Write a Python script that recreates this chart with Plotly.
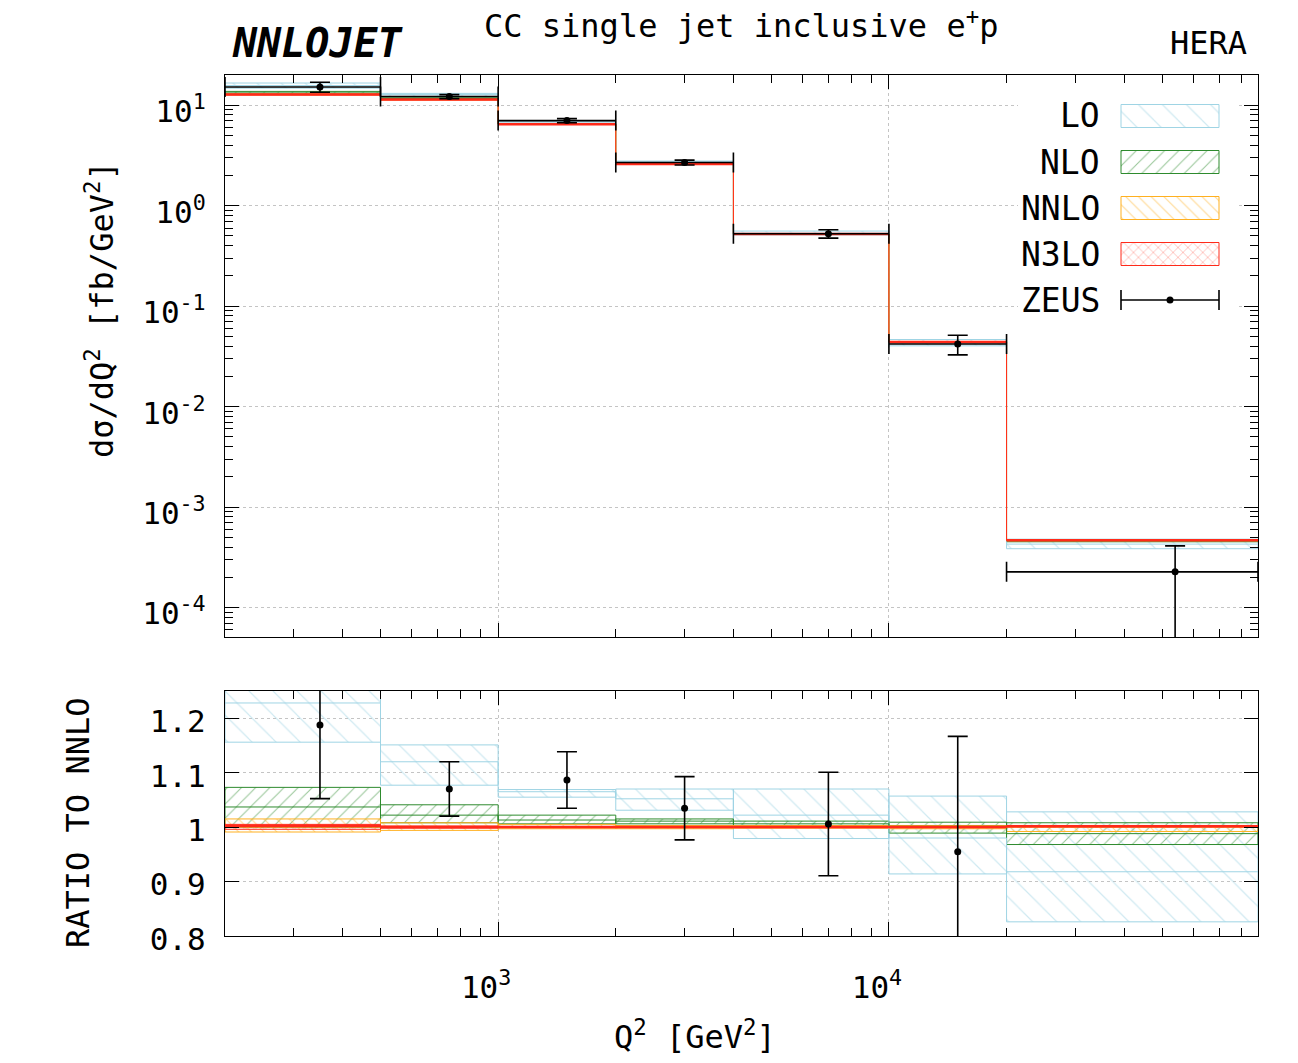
import math
import plotly.graph_objects as go

# ---------------- data ----------------
q2_edges = [200, 500, 1000, 2000, 4000, 10000, 20000, 88000]
nnlo_xsec = [12.8, 11.4, 6.47, 2.60, 0.523, 0.0441, 4.67e-4]   # fb/GeV^2

# ratios to NNLO central (lower, central, upper)
lo_lo = [1.156, 1.077, 1.055, 1.031, 0.979, 0.914, 0.826]
lo_c = [1.228, 1.120, 1.065, 1.052, 1.022, 0.980, 0.918]
lo_hi = [1.300, 1.151, 1.069, 1.070, 1.070, 1.057, 1.028]

nlo_lo = [1.000, 1.008, 1.006, 1.006, 1.0015, 0.989, 0.968]
nlo_c = [1.037, 1.022, 1.013, 1.011, 1.006, 1.0015, 0.988]
nlo_hi = [1.073, 1.041, 1.022, 1.015, 1.011, 1.009, 1.008]

nnlo_lo = [0.991, 0.994, 0.997, 0.997, 0.998, 0.997, 0.992]
nnlo_c = [1.0, 1.0, 1.0, 1.0, 1.0, 1.0, 1.0]
nnlo_hi = [1.015, 1.008, 1.005, 1.003, 1.003, 1.003, 1.003]

n3lo_lo = [0.996, 0.998, 0.999, 0.999, 0.999, 0.999, 1.000]
n3lo_c = [1.002, 1.000, 1.000, 1.000, 1.000, 1.000, 1.0015]
n3lo_hi = [1.005, 1.002, 1.001, 1.001, 1.001, 1.001, 1.003]

zeus_q2 = [350, 750, 1500, 3000, 7000, 15000, 54000]
zeus_xsec = [15.2, 12.2, 7.03, 2.69, 0.526, 0.0421, 2.27e-4]
zeus_err = [1.73, 0.57, 0.336, 0.151, 0.0497, 0.00935, 1.85e-4]

order_names = ["LO", "NLO", "NNLO", "N3LO"]
y_tick_vals = [1e-4, 1e-3, 1e-2, 1e-1, 1, 10]
y_tick_text = ["10<sup>-4</sup>", "10<sup>-3</sup>", "10<sup>-2</sup>",
               "10<sup>-1</sup>", "10<sup>0</sup>", "10<sup>1</sup>"]
x_tick_vals = [1000, 10000]
x_tick_text = ["10<sup>3</sup>", "10<sup>4</sup>"]
r_tick_vals = [0.8, 0.9, 1.0, 1.1, 1.2]
r_tick_text = ["0.8", "0.9", "1", "1.1", "1.2"]

# ---------------- style ----------------
W, H = 1298, 1063
FONT = "DejaVu Sans Mono"
def px(x): return x / W
def py(y): return 1 - y / H

styles = {
    "LO":   dict(color="#9fd4e4", shape="\\", size=17, solidity=0.07, cw=1),
    "NLO":  dict(color="#2e8b2e", shape="/", size=10, solidity=0.1, cw=1),
    "NNLO": dict(color="#ffb020", shape="\\", size=9, solidity=0.12, cw=1),
    "N3LO": dict(color="#ff2a1a", shape="x", size=7, solidity=0.15, cw=2.5),
}
bands = {
    "LO": (lo_lo, lo_c, lo_hi),
    "NLO": (nlo_lo, nlo_c, nlo_hi),
    "NNLO": (nnlo_lo, nnlo_c, nnlo_hi),
    "N3LO": (n3lo_lo, n3lo_c, n3lo_hi),
}

fig = go.Figure()

def band_polys(lo, hi):
    xs, ys = [], []
    for i in range(len(lo)):
        xl, xr = q2_edges[i], q2_edges[i + 1]
        xs += [xl, xr, xr, xl, xl, None]
        ys += [lo[i], lo[i], hi[i], hi[i], lo[i], None]
    return xs, ys

def step(vals):
    return q2_edges, list(vals) + [vals[-1]]

def flats(vals):
    xs, ys = [], []
    for i, v in enumerate(vals):
        xs += [q2_edges[i], q2_edges[i + 1], None]
        ys += [v, v, None]
    return xs, ys

for panel, (xa, ya) in [("top", ("x", "y")), ("ratio", ("x2", "y2"))]:
    for name in order_names:
        st = styles[name]
        lo, c, hi = bands[name]
        if panel == "top":
            lo = [a * b for a, b in zip(lo, nnlo_xsec)]
            hi = [a * b for a, b in zip(hi, nnlo_xsec)]
        xs, ys = band_polys(lo, hi)
        fig.add_trace(go.Scatter(
            x=xs, y=ys, mode="lines", fill="toself", xaxis=xa, yaxis=ya,
            line=dict(color=st["color"], width=1),
            fillcolor="rgba(0,0,0,0)",
            fillpattern=dict(shape=st["shape"], fgcolor=st["color"], size=st["size"],
                             solidity=st["solidity"], bgcolor="rgba(0,0,0,0)"),
            showlegend=False, hoverinfo="skip"))
    for name in order_names:
        st = styles[name]
        c = bands[name][1]
        if panel == "top":
            c = [a * b for a, b in zip(c, nnlo_xsec)]
        sx, sy = step(c)
        fig.add_trace(go.Scatter(
            x=sx, y=sy, mode="lines", line=dict(color=st["color"], width=1, shape="hv"),
            xaxis=xa, yaxis=ya, showlegend=False, hoverinfo="skip"))
        if st["cw"] > 1:
            fx, fy = flats(c)
            fig.add_trace(go.Scatter(
                x=fx, y=fy, mode="lines", line=dict(color=st["color"], width=st["cw"]),
                xaxis=xa, yaxis=ya, showlegend=False, hoverinfo="skip"))

# ZEUS data
ex_minus = [q - q2_edges[i] for i, q in enumerate(zeus_q2)]
ex_plus = [q2_edges[i + 1] - q for i, q in enumerate(zeus_q2)]
fig.add_trace(go.Scatter(
    x=zeus_q2, y=zeus_xsec, mode="markers", xaxis="x", yaxis="y",
    marker=dict(color="black", size=7),
    error_y=dict(type="data", array=zeus_err, color="black", thickness=1.6, width=10),
    error_x=dict(type="data", array=ex_plus, arrayminus=ex_minus, color="black",
                 thickness=1.6, width=10),
    showlegend=False))

r_x, r_y, r_e = [], [], []
for q, v, e, n in zip(zeus_q2, zeus_xsec, zeus_err, nnlo_xsec):
    r = v / n
    if 0.8 <= r <= 1.25:
        r_x.append(q); r_y.append(r); r_e.append(e / n)
fig.add_trace(go.Scatter(
    x=r_x, y=r_y, mode="markers", xaxis="x2", yaxis="y2",
    marker=dict(color="black", size=7),
    error_y=dict(type="data", array=r_e, color="black", thickness=1.6, width=10),
    showlegend=False))

# ---------------- custom legend (pixel overlay axes) ----------------
leg_rows = [116, 162, 208, 254, 300]
fig.add_trace(go.Scatter(
    x=[1018, 1238, 1238, 1018, 1018], y=[92, 92, 320, 320, 92], mode="lines",
    fill="toself", fillcolor="white", line=dict(width=0), xaxis="x3", yaxis="y3",
    showlegend=False, hoverinfo="skip"))
for name, yc in zip(order_names, leg_rows):
    st = styles[name]
    x0, x1, y0, y1 = 1121, 1219, yc - 11.5, yc + 11.5
    fig.add_trace(go.Scatter(
        x=[x0, x1, x1, x0, x0], y=[y0, y0, y1, y1, y0], mode="lines", fill="toself",
        fillcolor="rgba(0,0,0,0)", line=dict(color=st["color"], width=1),
        fillpattern=dict(shape=st["shape"], fgcolor=st["color"], size=st["size"],
                         solidity=st["solidity"], bgcolor="rgba(0,0,0,0)"),
        xaxis="x3", yaxis="y3", showlegend=False, hoverinfo="skip"))
yz = leg_rows[4]
fig.add_trace(go.Scatter(
    x=[1121, 1219, None, 1121, 1121, None, 1219, 1219], y=[yz, yz, None, yz - 10, yz + 10, None, yz - 10, yz + 10],
    mode="lines", line=dict(color="black", width=1.6), xaxis="x3", yaxis="y3",
    showlegend=False, hoverinfo="skip"))
fig.add_trace(go.Scatter(x=[1170], y=[yz], mode="markers", marker=dict(color="black", size=7),
                         xaxis="x3", yaxis="y3", showlegend=False, hoverinfo="skip"))

annotations = []
for name, yc in zip(order_names + ["ZEUS"], leg_rows):
    annotations.append(dict(text=name, x=px(1102), y=py(yc), xref="paper", yref="paper",
                            xanchor="right", yanchor="middle", showarrow=False,
                            font=dict(family=FONT, size=33, color="black")))

annotations += [
    dict(text="CC single jet inclusive e<sup>+</sup>p", x=px(741), y=py(24), xanchor="center",
         yanchor="middle", font=dict(family=FONT, size=32, color="black")),
    dict(text="<b><i>NNLOJET</i></b>", x=px(230), y=py(43), xanchor="left", yanchor="middle",
         font=dict(family=FONT, size=40, color="black")),
    dict(text="HERA", x=px(1249), y=py(43), xanchor="right", yanchor="middle",
         font=dict(family=FONT, size=32, color="black")),
    dict(text="dσ/dQ<sup>2</sup> [fb/GeV<sup>2</sup>]", x=px(100), y=py(310), textangle=-90,
         xanchor="center", yanchor="middle", font=dict(family=FONT, size=32, color="black")),
    dict(text="RATIO TO NNLO", x=px(78), y=py(823), textangle=-90,
         xanchor="center", yanchor="middle", font=dict(family=FONT, size=32, color="black")),
    dict(text="Q<sup>2</sup> [GeV<sup>2</sup>]", x=px(695), y=py(1035), xanchor="center",
         yanchor="middle", font=dict(family=FONT, size=32, color="black")),
]
for a in annotations:
    a.setdefault("xref", "paper"); a.setdefault("yref", "paper"); a["showarrow"] = False

# ---------------- axes ----------------
x_minor = [m * 10 ** e for e in range(2, 5) for m in range(2, 10)
           if q2_edges[0] < m * 10 ** e < q2_edges[-1]]
y_minor = [m * 10 ** e for e in range(-5, 2) for m in range(2, 10)
           if 5.1e-5 < m * 10 ** e < 20]

grid = dict(showgrid=True, gridcolor="#c4c4c4", griddash="dot", gridwidth=1)
common = dict(showline=True, linecolor="black", linewidth=1.2, mirror="allticks",
              ticks="inside", ticklen=14, tickcolor="black", tickwidth=1,
              zeroline=False, automargin=False,
              tickfont=dict(family=FONT, size=31, color="black"))
xr = [math.log10(q2_edges[0]), math.log10(q2_edges[-1])]
xdom = [px(225), px(1258)]

fig.update_layout(
    width=W, height=H, margin=dict(l=0, r=0, t=0, b=0),
    paper_bgcolor="white", plot_bgcolor="rgba(0,0,0,0)",
    font=dict(family=FONT, size=31, color="black"),
    showlegend=False,
    annotations=annotations,
    xaxis=dict(domain=xdom, type="log", range=xr, anchor="y", matches="x2",
               tickvals=x_tick_vals, showticklabels=False,
               minor=dict(tickvals=x_minor, ticks="inside", ticklen=8, tickcolor="black", showgrid=False),
               **grid, **common),
    yaxis=dict(domain=[py(637), py(75)], type="log", range=[math.log10(5.1e-5), math.log10(20)],
               anchor="x", tickvals=y_tick_vals, ticktext=y_tick_text, ticklabelstandoff=12,
               ticklabelshift=6,
               minor=dict(tickvals=y_minor, ticks="inside", ticklen=8, tickcolor="black", showgrid=False),
               **grid, **common),
    xaxis2=dict(domain=xdom, type="log", range=xr, anchor="y2",
                tickvals=x_tick_vals, ticktext=x_tick_text, ticklabelstandoff=24,
                ticklabelshift=-12,
                minor=dict(tickvals=x_minor, ticks="inside", ticklen=8, tickcolor="black", showgrid=False),
                **grid, **common),
    yaxis2=dict(domain=[py(936), py(691)], range=[0.8, 1.25], anchor="x2",
                tickvals=r_tick_vals, ticktext=r_tick_text, ticklabelstandoff=12,
                ticklabelshift=3,
                **grid, **common),
    xaxis3=dict(domain=[0, 1], range=[0, W], visible=False, anchor="y3", fixedrange=True),
    yaxis3=dict(domain=[0, 1], range=[H, 0], visible=False, anchor="x3", fixedrange=True),
)

fig.write_html("out.html")
